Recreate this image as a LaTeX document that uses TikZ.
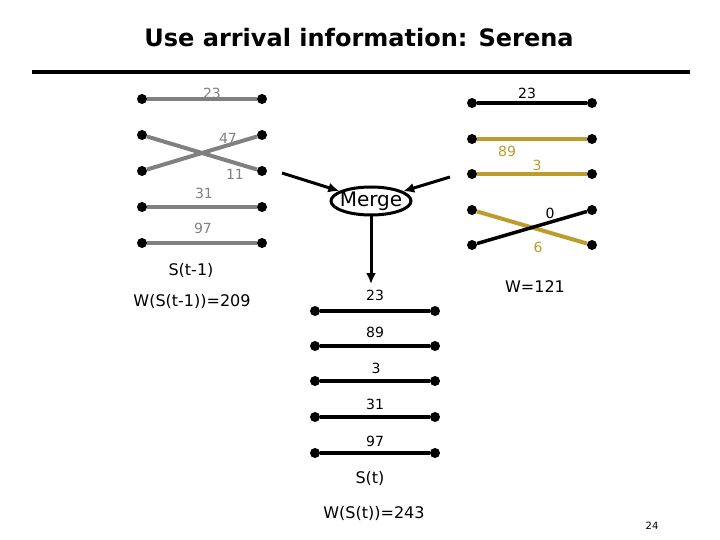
\documentclass[tikz,border=0pt]{standalone}
\usepackage{fontspec}
\setmainfont{DejaVu Sans}
\usepackage{tikz}
\usetikzlibrary{positioning, shapes.geometric, arrows.meta, backgrounds}
\definecolor{wiregray}{RGB}{128,128,128}
\definecolor{wiregold}{RGB}{190,155,45}

\begin{document}
\begin{tikzpicture}[
	x=1pt, y=-1pt,
	dot/.style={circle, fill=black, inner sep=0pt, minimum size=10pt},
	graywire/.style={draw=wiregray, line width=4pt},
	goldwire/.style={draw=wiregold, line width=4pt},
	blackwire/.style={draw=black, line width=3.5pt},
	lbl/.style={inner sep=0pt, font=\fontsize{14}{16}\selectfont},
	txt/.style={inner sep=0pt, font=\fontsize{16}{18}\selectfont},
	merge/.style={draw, ellipse, line width=3pt, minimum width=80pt, minimum height=28pt, inner sep=0pt},
	flow/.style={draw, line width=3pt, -{Latex[length=11pt, width=10pt]}},
	]
	\useasboundingbox (0,0) rectangle (720,540);
	
	%% ── Title ──────────────────────────────────────────────────────────────
	\node[inner sep=0pt, font=\fontsize{24}{26}\selectfont\bfseries] (title) at (359,38) {Use arrival information: Serena};
	\coordinate (ruleL) at (32,72);
	\coordinate (ruleR) at (690,72);
	\draw[line width=4.5pt] (ruleL) -- (ruleR);
	
	%% ── Left set S(t-1) ────────────────────────────────────────────────────
	\node[dot] (l1a) at (142,99)  {};
	\node[dot] (l1b) at (262,99)  {};
	\node[dot] (l2a) at (142,135) {};
	\node[dot] (l2b) at (262,135) {};
	\node[dot] (l3a) at (142,171) {};
	\node[dot] (l3b) at (262,171) {};
	\node[dot] (l4a) at (142,207) {};
	\node[dot] (l4b) at (262,207) {};
	\node[dot] (l5a) at (142,243) {};
	\node[dot] (l5b) at (262,243) {};
	
	\begin{scope}[on background layer]
		\draw[graywire] (l1a) -- (l1b);
		\draw[graywire] (l2a) -- (l3b);
		\draw[graywire] (l3a) -- (l2b);
		\draw[graywire] (l4a) -- (l4b);
		\draw[graywire] (l5a) -- (l5b);
	\end{scope}
	
	\node[lbl, text=wiregray] (w23) at (212,93)  {23};
	\node[lbl, text=wiregray] (w47) at (228,138) {47};
	\node[lbl, text=wiregray] (w11) at (235,174) {11};
	\node[lbl, text=wiregray] (w31) at (204,193) {31};
	\node[lbl, text=wiregray] (w97) at (203,228) {97};
	
	\node[txt] (sold) at (191,270) {S(t-1)};
	\node[txt] (wold) at (192,301) {W(S(t-1))=209};
	
	%% ── Right set (arrivals) ───────────────────────────────────────────────
	\node[dot] (r1a) at (472,103) {};
	\node[dot] (r1b) at (592,103) {};
	\node[dot] (r2a) at (472,139) {};
	\node[dot] (r2b) at (592,139) {};
	\node[dot] (r3a) at (472,174) {};
	\node[dot] (r3b) at (592,174) {};
	\node[dot] (r4a) at (472,210) {};
	\node[dot] (r4b) at (592,210) {};
	\node[dot] (r5a) at (472,245) {};
	\node[dot] (r5b) at (592,245) {};
	
	\begin{scope}[on background layer]
		\draw[blackwire] (r1a) -- (r1b);
		\draw[goldwire]  (r2a) -- (r2b);
		\draw[goldwire]  (r3a) -- (r3b);
		\draw[goldwire]  (r4a) -- (r5b);
		\draw[blackwire] (r5a) -- (r4b);
	\end{scope}
	
	\node[lbl]                 (a23) at (527,93)  {23};
	\node[lbl, text=wiregold]  (a89) at (507,151) {89};
	\node[lbl, text=wiregold]  (a3)  at (537,165) {3};
	\node[lbl]                 (a0)  at (550,213) {0};
	\node[lbl, text=wiregold]  (a6)  at (538,247) {6};
	
	\node[txt] (wnew) at (535,287) {W=121};
	
	%% ── Merge ──────────────────────────────────────────────────────────────
	\node[merge, label={[font=\fontsize{20}{22}\selectfont]center:Merge}] (mrg) at (371,201) {};
	\coordinate (inL) at (282,173);
	\coordinate (inR) at (450,177);
	\coordinate (outB) at (371,284);
	\draw[flow] (inL) -- (mrg);
	\draw[flow] (inR) -- (mrg);
	\draw[flow] (mrg.south) -- (outB);
	
	%% ── Result S(t) ────────────────────────────────────────────────────────
	\node[dot] (b1a) at (315,311) {};
	\node[dot] (b1b) at (435,311) {};
	\node[dot] (b2a) at (315,346) {};
	\node[dot] (b2b) at (435,346) {};
	\node[dot] (b3a) at (315,381) {};
	\node[dot] (b3b) at (435,381) {};
	\node[dot] (b4a) at (315,417) {};
	\node[dot] (b4b) at (435,417) {};
	\node[dot] (b5a) at (315,453) {};
	\node[dot] (b5b) at (435,453) {};
	
	\begin{scope}[on background layer]
		\draw[blackwire] (b1a) -- (b1b);
		\draw[blackwire] (b2a) -- (b2b);
		\draw[blackwire] (b3a) -- (b3b);
		\draw[blackwire] (b4a) -- (b4b);
		\draw[blackwire] (b5a) -- (b5b);
	\end{scope}
	
	\node[lbl] (s23) at (375,295) {23};
	\node[lbl] (s89) at (375,332) {89};
	\node[lbl] (s3)  at (376,368) {3};
	\node[lbl] (s31) at (375,404) {31};
	\node[lbl] (s97) at (375,441) {97};
	
	\node[txt] (snew) at (370,478) {S(t)};
	\node[txt] (wres) at (374,513) {W(S(t))=243};
	
	\node[inner sep=0pt, font=\fontsize{10}{12}\selectfont] (page) at (652,526) {24};
	
\end{tikzpicture}
\end{document}
